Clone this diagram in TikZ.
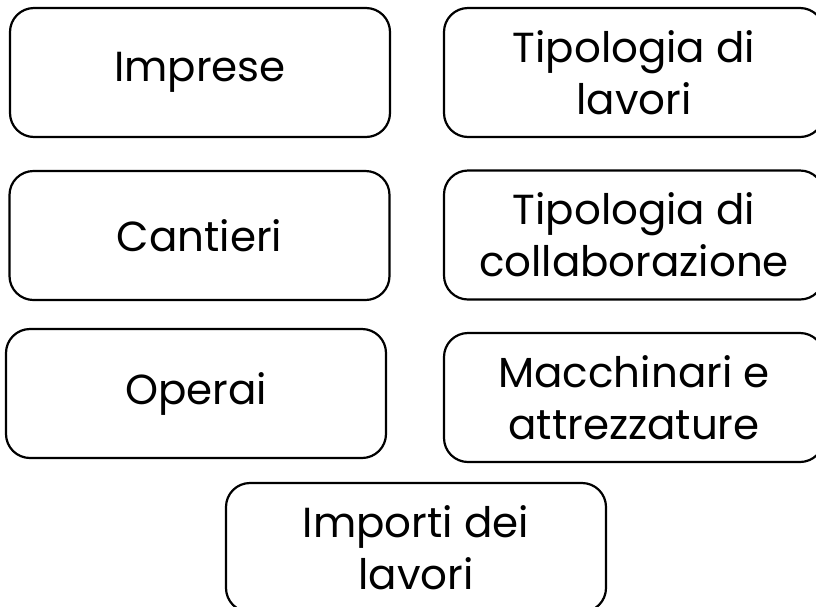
\documentclass[tikz,border=0pt]{standalone}
\usepackage{fontspec}
\setmainfont{Poppins}
\usetikzlibrary{positioning}

\begin{document}
\begin{tikzpicture}[x=1pt,y=-1pt,
	voce/.style={draw, line width=2.2pt, rounded corners=24pt,
		minimum width=380pt, minimum height=129pt, inner sep=0pt,
		align=center, font=\fontsize{42}{52}\selectfont}]

	\useasboundingbox (0,0) rectangle (816,606);

% colonna sinistra
	\node[voce] (imprese) at (200,72.5) {Imprese};
	\node[voce] (cantieri) at (199.5,235.5) {Cantieri};
	\node[voce] (operai) at (196,393.5) {Operai};

% colonna destra
	\node[voce] (lavori) at (634,72.5) {Tipologia di\\lavori};
	\node[voce] (collab) at (634,235) {Tipologia di\\collaborazione};
	\node[voce] (macchine) at (634,397.5) {Macchinari e\\attrezzature};

% in fondo
	\node[voce] (importi) at (416,547.5) {Importi dei\\lavori};
\end{tikzpicture}
\end{document}
